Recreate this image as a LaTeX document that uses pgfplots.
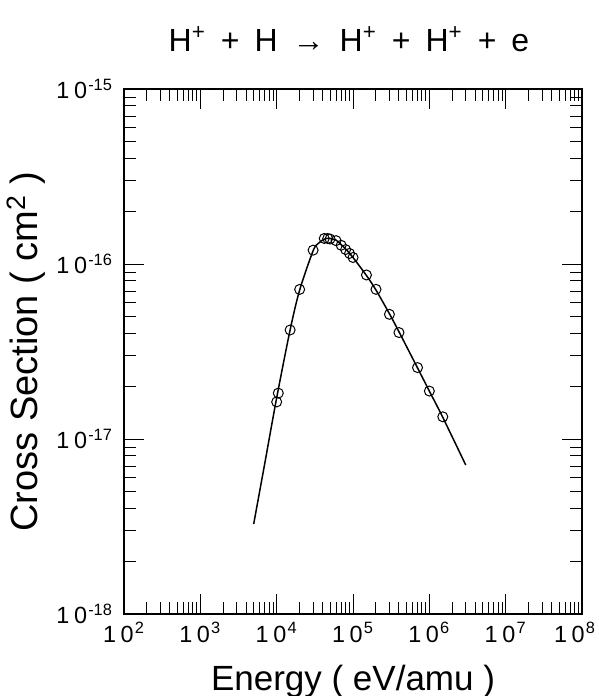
\documentclass[border=0pt]{standalone}
\usepackage{fontspec}
\setmainfont{Liberation Sans}
\usepackage{pgfplots}
\pgfplotsset{compat=1.18}
\newcommand{\tl}[1]{1\kern2.3pt0\textsuperscript{\kern0.6pt#1}}
\begin{document}
\begin{tikzpicture}
\begin{axis}[
  name=ax,
  xmode=log, ymode=log,
  scale only axis, width=229pt, height=262.5pt,
  xmin=1e2, xmax=1e8, ymin=1e-18, ymax=1e-15,
  axis line style={line width=1pt},
  tick align=inside,
  major tick length=10pt, minor tick length=6pt,
  every tick/.style={black, line width=0.5pt},
  xtick={1e2,1e3,1e4,1e5,1e6,1e7,1e8},
  xticklabels={\tl{2},\tl{3},\tl{4},\tl{5},\tl{6},\tl{7},\tl{8}\kern7pt\null},
  minor xtick={2e2,3e2,4e2,5e2,6e2,7e2,8e2,9e2,
               2e3,3e3,4e3,5e3,6e3,7e3,8e3,9e3,
               2e4,3e4,4e4,5e4,6e4,7e4,8e4,9e4,
               2e5,3e5,4e5,5e5,6e5,7e5,8e5,9e5,
               2e6,3e6,4e6,5e6,6e6,7e6,8e6,9e6,
               2e7,3e7,4e7,5e7,6e7,7e7,8e7,9e7},
  ytick={1e-18,1e-17,1e-16,1e-15},
  yticklabels={\tl{-18},\tl{-17},\tl{-16},\tl{-15}},
  minor ytick={2e-18,3e-18,4e-18,5e-18,6e-18,7e-18,8e-18,9e-18,
               2e-17,3e-17,4e-17,5e-17,6e-17,7e-17,8e-17,9e-17,
               2e-16,3e-16,4e-16,5e-16,6e-16,7e-16,8e-16,9e-16},
  ticklabel style={font=\fontsize{11.7}{14}\selectfont},
  yticklabel style={xshift=-2pt},
  xticklabel style={yshift=-0.5pt},
]
\addplot[black, line width=0.75pt, smooth, tension=0.5] coordinates {
(5e3,3.27e-18) (7e3,7.3e-18) (1e4,1.72e-17) (1.5e4,4.2e-17) (2e4,7.1e-17)
(3e4,1.19e-16) (3.5e4,1.31e-16) (4e4,1.37e-16) (4.5e4,1.40e-16) (5e4,1.40e-16)
(6e4,1.37e-16) (7e4,1.29e-16) (8e4,1.22e-16) (1e5,1.09e-16) (1.5e5,8.6e-17)
(2e5,7.1e-17) (3e5,5.2e-17) (4e5,4.1e-17) (7e5,2.55e-17) (1e6,1.88e-17)
(1.5e6,1.33e-17) (3e6,7.1e-18)
};
\addplot[only marks, mark=o, mark size=2.5pt, mark options={line width=0.5pt, black}] coordinates {
(1e4,1.63e-17) (1.05e4,1.83e-17) (1.5e4,4.2e-17) (2e4,7.16e-17) (3e4,1.2e-16)
(4.2e4,1.40e-16) (4.66e4,1.40e-16) (5e4,1.39e-16) (6e4,1.36e-16) (7e4,1.28e-16)
(8e4,1.21e-16) (9e4,1.15e-16) (1e5,1.09e-16) (1.5e5,8.66e-17) (2e5,7.17e-17)
(3e5,5.16e-17) (4e5,4.06e-17) (7e5,2.56e-17) (1e6,1.88e-17) (1.5e6,1.34e-17)
};
\end{axis}
\node[anchor=base, font=\fontsize{16}{18}\selectfont] at ([xshift=-2pt,yshift=18.5pt]ax.north)
  {H\textsuperscript{+}\hspace{7.5pt}+\hspace{7.5pt}H\hspace{7.5pt}→\hspace{7.5pt}H\textsuperscript{+}\hspace{7.5pt}+\hspace{7.5pt}H\textsuperscript{+}\hspace{7.5pt}+\hspace{7.5pt}e};
\node[anchor=base, font=\fontsize{17.5}{20}\selectfont] at ([yshift=-38pt]ax.south)
  {Energy ( eV/amu )};
\node[anchor=base, rotate=90, font=\fontsize{19}{22}\selectfont] at ([xshift=-43pt]ax.west)
  {Cross Section ( cm\textsuperscript{2} )};
\pgfresetboundingbox
\path ([xshift=-62pt,yshift=-41pt]ax.south west) rectangle ([xshift=8pt,yshift=44.5pt]ax.north east);
\end{tikzpicture}
\end{document}
